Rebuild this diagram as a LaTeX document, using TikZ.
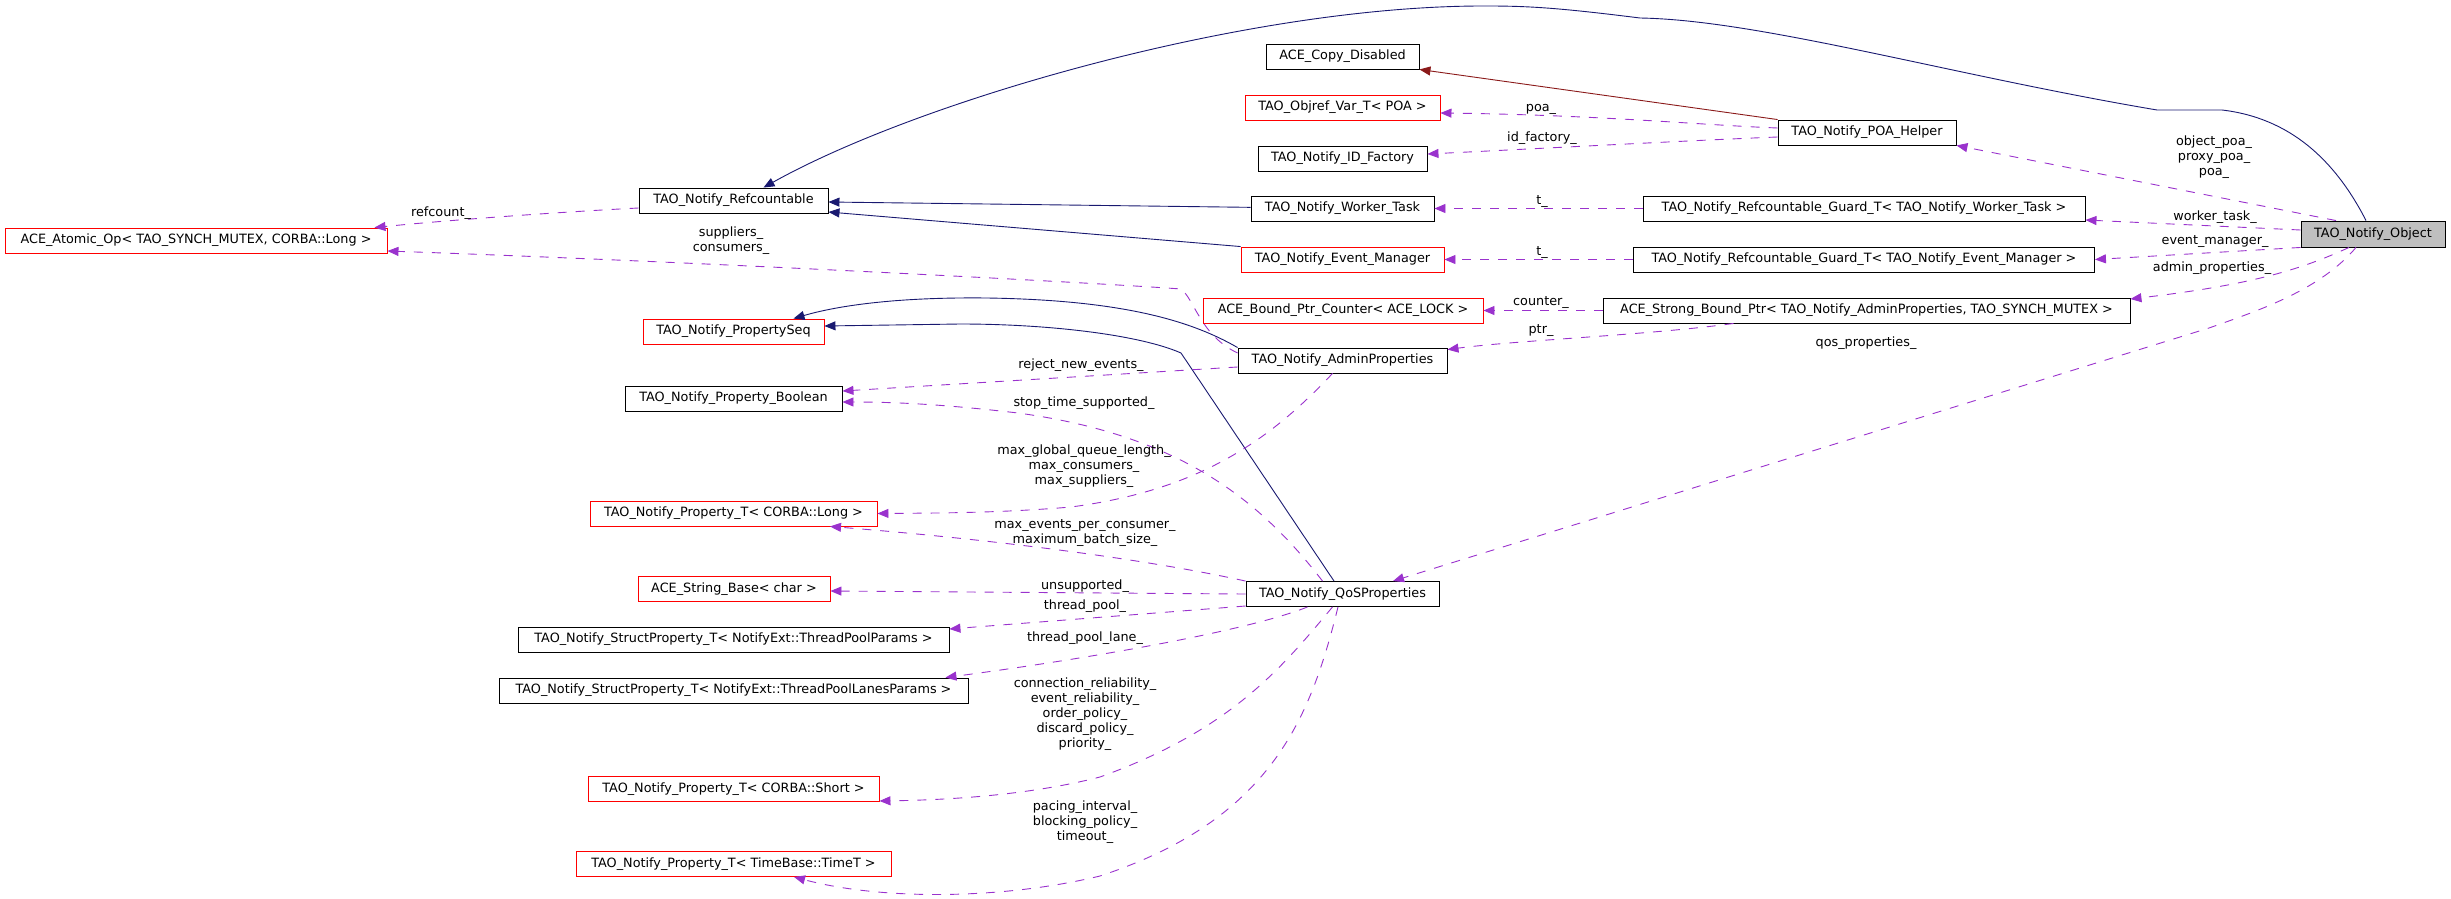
\documentclass[tikz,border=0pt]{standalone}
\usepackage{fontspec}
\setmainfont{DejaVu Sans}
\usepackage{xcolor}
\usepackage{tikz}
\usetikzlibrary{arrows.meta}
\definecolor{myblue}{HTML}{191970}
\definecolor{mydarkred}{HTML}{8B1A1A}
\definecolor{mypurple}{HTML}{9A32CD}
\definecolor{mygrey}{HTML}{BFBFBF}

\begin{document}
\begin{tikzpicture}[x=1pt, y=-1pt,
    font=\fontsize{12.8}{15}\selectfont,
    box/.style={rectangle, draw=black, line width=0.9pt, minimum height=25pt, inner sep=2pt},
    undoc/.style={box, draw=red},
    inh/.style={-{Triangle[length=11pt,width=9pt]}, myblue, line width=0.9pt},
    priv/.style={inh, mydarkred},
    use/.style={-{Triangle[length=11pt,width=9pt]}, mypurple, dash pattern=on 9pt off 9pt, line width=0.9pt},
    lbl/.style={align=center, inner sep=0pt}]
    \useasboundingbox (0,0) rectangle (2451,899);

    % 左列
    \node[box, minimum width=189pt] (refc) at (733.5, 200.5) {TAO\_Notify\_Refcountable};
    \node[undoc, minimum width=382pt] (atomic) at (196, 240.5) {ACE\_Atomic\_Op< TAO\_SYNCH\_MUTEX, CORBA::Long >};
    \node[undoc, minimum width=181pt] (propseq) at (733.5, 331.5) {TAO\_Notify\_PropertySeq};
    \node[box, minimum width=217pt] (boolean) at (733.5, 398.5) {TAO\_Notify\_Property\_Boolean};
    \node[undoc, minimum width=287pt] (plong) at (733.5, 513.5) {TAO\_Notify\_Property\_T< CORBA::Long >};
    \node[undoc, minimum width=192pt] (strbase) at (734, 589) {ACE\_String\_Base< char >};
    \node[box, minimum width=431pt] (tpool) at (733.5, 639.5) {TAO\_Notify\_StructProperty\_T< NotifyExt::ThreadPoolParams >};
    \node[box, minimum width=469pt] (tlanes) at (733.5, 690.5) {TAO\_Notify\_StructProperty\_T< NotifyExt::ThreadPoolLanesParams >};
    \node[undoc, minimum width=291pt] (pshort) at (733.5, 789) {TAO\_Notify\_Property\_T< CORBA::Short >};
    \node[undoc, minimum width=315pt] (ptime) at (733.5, 864) {TAO\_Notify\_Property\_T< TimeBase::TimeT >};

    % 中列
    \node[box, minimum width=153pt] (copy) at (1342.5, 56.5) {ACE\_Copy\_Disabled};
    \node[undoc, minimum width=195pt] (objref) at (1342.5, 107.5) {TAO\_Objref\_Var\_T< POA >};
    \node[box, minimum width=169pt] (idfac) at (1342.5, 158.5) {TAO\_Notify\_ID\_Factory};
    \node[box, minimum width=183pt] (worker) at (1342.5, 208.5) {TAO\_Notify\_Worker\_Task};
    \node[undoc, minimum width=203pt] (evmgr) at (1342.5, 259.5) {TAO\_Notify\_Event\_Manager};
    \node[undoc, minimum width=280pt] (counter) at (1343, 310.5) {ACE\_Bound\_Ptr\_Counter< ACE\_LOCK >};
    \node[box, minimum width=209pt] (admin) at (1342.5, 360.5) {TAO\_Notify\_AdminProperties};
    \node[box, minimum width=193pt] (qos) at (1342.5, 594) {TAO\_Notify\_QoSProperties};

    % 右列
    \node[box, minimum width=178pt] (poahelper) at (1867, 132.5) {TAO\_Notify\_POA\_Helper};
    \node[box, minimum width=442pt] (gworker) at (1864, 208.5) {TAO\_Notify\_Refcountable\_Guard\_T< TAO\_Notify\_Worker\_Task >};
    \node[box, minimum width=461pt] (gevmgr) at (1864, 259.5) {TAO\_Notify\_Refcountable\_Guard\_T< TAO\_Notify\_Event\_Manager >};
    \node[box, minimum width=527pt] (strongptr) at (1866.5, 310.5) {ACE\_Strong\_Bound\_Ptr< TAO\_Notify\_AdminProperties, TAO\_SYNCH\_MUTEX >};
    \node[box, fill=mygrey, minimum width=144pt, minimum height=26pt] (object) at (2373, 234) {TAO\_Notify\_Object};

    % 继承
    \draw[inh] ([xshift=-7pt]object.north) .. controls (2335,160) and (2290,118) .. (2222,110) -- (2157,110)
        .. controls (1950,75) and (1760,20) .. (1640,18) .. controls (1560,8) and (1530,6) .. (1487,6)
        .. controls (1250,5) and (920,100) .. ([xshift=30pt]refc.north);
    \draw[inh] (worker) -- ([yshift=-1.5pt]refc.east);
    \draw[inh] (evmgr.north west) -- ([yshift=-11.5pt]refc.east);
    \draw[inh] (admin.north west) .. controls (1190,320) and (1120,300) .. (987,298)
        .. controls (900,297) and (840,305) .. ([xshift=60pt]propseq.north);
    \draw[inh] ([xshift=-8.5pt]qos.north) -- (1181,353) .. controls (1140,335) and (1050,324) .. (960,324)
        -- ([yshift=5.5pt]propseq.east);
    \draw[priv] (poahelper.north west) -- (copy.south east);

    % 成员
    \draw[use] ([xshift=-37pt]object.north) -- (poahelper.south east);
    \draw[use] ([yshift=4pt]object.west) -- ([yshift=-11.5pt]gworker.east);
    \draw[use] (object.south west) -- (gevmgr.east);
    \draw[use] ([xshift=-24pt]object.south) .. controls (2300,270) and (2250,285) .. ([yshift=11.5pt]strongptr.east);
    \draw[use] ([xshift=-17pt]object.south) .. controls (2320,290) and (2260,310) .. (2209,328)
        -- ([xshift=50.5pt]qos.north);
    \draw[use] ([yshift=4.5pt]poahelper.west) .. controls (1700,125) and (1600,115) .. ([yshift=-5.5pt]objref.east);
    \draw[use] ([yshift=-4.5pt]poahelper.west) .. controls (1700,140) and (1550,148) .. ([yshift=4.5pt]idfac.east);
    \draw[use] (gworker) -- (worker);
    \draw[use] (gevmgr) -- (evmgr);
    \draw[use] (strongptr) -- (counter);
    \draw[use] ([xshift=-133pt]strongptr.south) .. controls (1650,335) and (1520,340) .. ([yshift=-2pt]admin.north east);
    \draw[use] ([yshift=-7.5pt]refc.west) .. controls (560,212) and (450,220) .. ([xshift=-13pt]atomic.north east);
    \draw[use] ([yshift=7.5pt]admin.west) .. controls (1200,335) and (1195,300) .. (1181,289)
        .. controls (1100,283) and (700,262) .. ([yshift=-10.5pt]atomic.east);
    \draw[use] ([yshift=-6.5pt]admin.west) -- ([yshift=7.5pt]boolean.east);
    \draw[use] ([xshift=-20pt]qos.north) .. controls (1260,500) and (1180,435) .. (1018,413)
        .. controls (950,405) and (900,402) .. ([yshift=-3.5pt]boolean.east);
    \draw[use] ([xshift=-10pt]admin.south) .. controls (1270,440) and (1200,490) .. (1071,507)
        .. controls (1000,513) and (940,513) .. (plong.east);
    \draw[use] (qos.north west) .. controls (1150,560) and (1000,540) .. ([xshift=96.5pt]plong.south);
    \draw[use] (qos.west) -- ([yshift=-2pt]strbase.east);
    \draw[use] ([yshift=-12pt]qos.west) -- ([yshift=10.5pt]tpool.east);
    \draw[use] ([xshift=-35pt]qos.south) .. controls (1250,630) and (1100,657) .. ([xshift=-23pt]tlanes.north east);
    \draw[use] ([xshift=-10pt]qos.south) .. controls (1280,670) and (1230,730) .. (1100,777)
        .. controls (1030,795) and (950,800) .. ([yshift=1pt]pshort.south east);
    \draw[use] ([xshift=-4.5pt]qos.south) .. controls (1310,720) and (1270,820) .. (1100,876)
        .. controls (1000,900) and (880,900) .. ([xshift=60.5pt]ptime.south);

    % 标签
    \node[lbl] (l-poa) at (2214, 157) {object\_poa\_\\proxy\_poa\_\\poa\_};
    \node[lbl] (l-worker) at (2215, 217) {worker\_task\_};
    \node[lbl] (l-evmgr) at (2215, 242) {event\_manager\_};
    \node[lbl] (l-admin) at (2212, 268) {admin\_properties\_};
    \node[lbl] (l-qos) at (1866, 343) {qos\_properties\_};
    \node[lbl] (l-poa2) at (1541, 109) {poa\_};
    \node[lbl] (l-idfac) at (1542, 138) {id\_factory\_};
    \node[lbl] (l-t1) at (1542, 202) {t\_};
    \node[lbl] (l-t2) at (1542, 253) {t\_};
    \node[lbl] (l-counter) at (1541, 303) {counter\_};
    \node[lbl] (l-ptr) at (1541, 331) {ptr\_};
    \node[lbl] (l-refcount) at (441, 213) {refcount\_};
    \node[lbl] (l-suppl) at (731, 241) {suppliers\_\\consumers\_};
    \node[lbl] (l-reject) at (1081, 365) {reject\_new\_events\_};
    \node[lbl] (l-stop) at (1084, 403) {stop\_time\_supported\_};
    \node[lbl] (l-maxg) at (1084, 466) {max\_global\_queue\_length\_\\max\_consumers\_\\max\_suppliers\_};
    \node[lbl] (l-maxe) at (1085, 533) {max\_events\_per\_consumer\_\\maximum\_batch\_size\_};
    \node[lbl] (l-unsup) at (1085, 586) {unsupported\_};
    \node[lbl] (l-tpool) at (1085, 606) {thread\_pool\_};
    \node[lbl] (l-tlane) at (1085, 638) {thread\_pool\_lane\_};
    \node[lbl] (l-conn) at (1085, 714) {connection\_reliability\_\\event\_reliability\_\\order\_policy\_\\discard\_policy\_\\priority\_};
    \node[lbl] (l-pace) at (1085, 822) {pacing\_interval\_\\blocking\_policy\_\\timeout\_};
\end{tikzpicture}
\end{document}
